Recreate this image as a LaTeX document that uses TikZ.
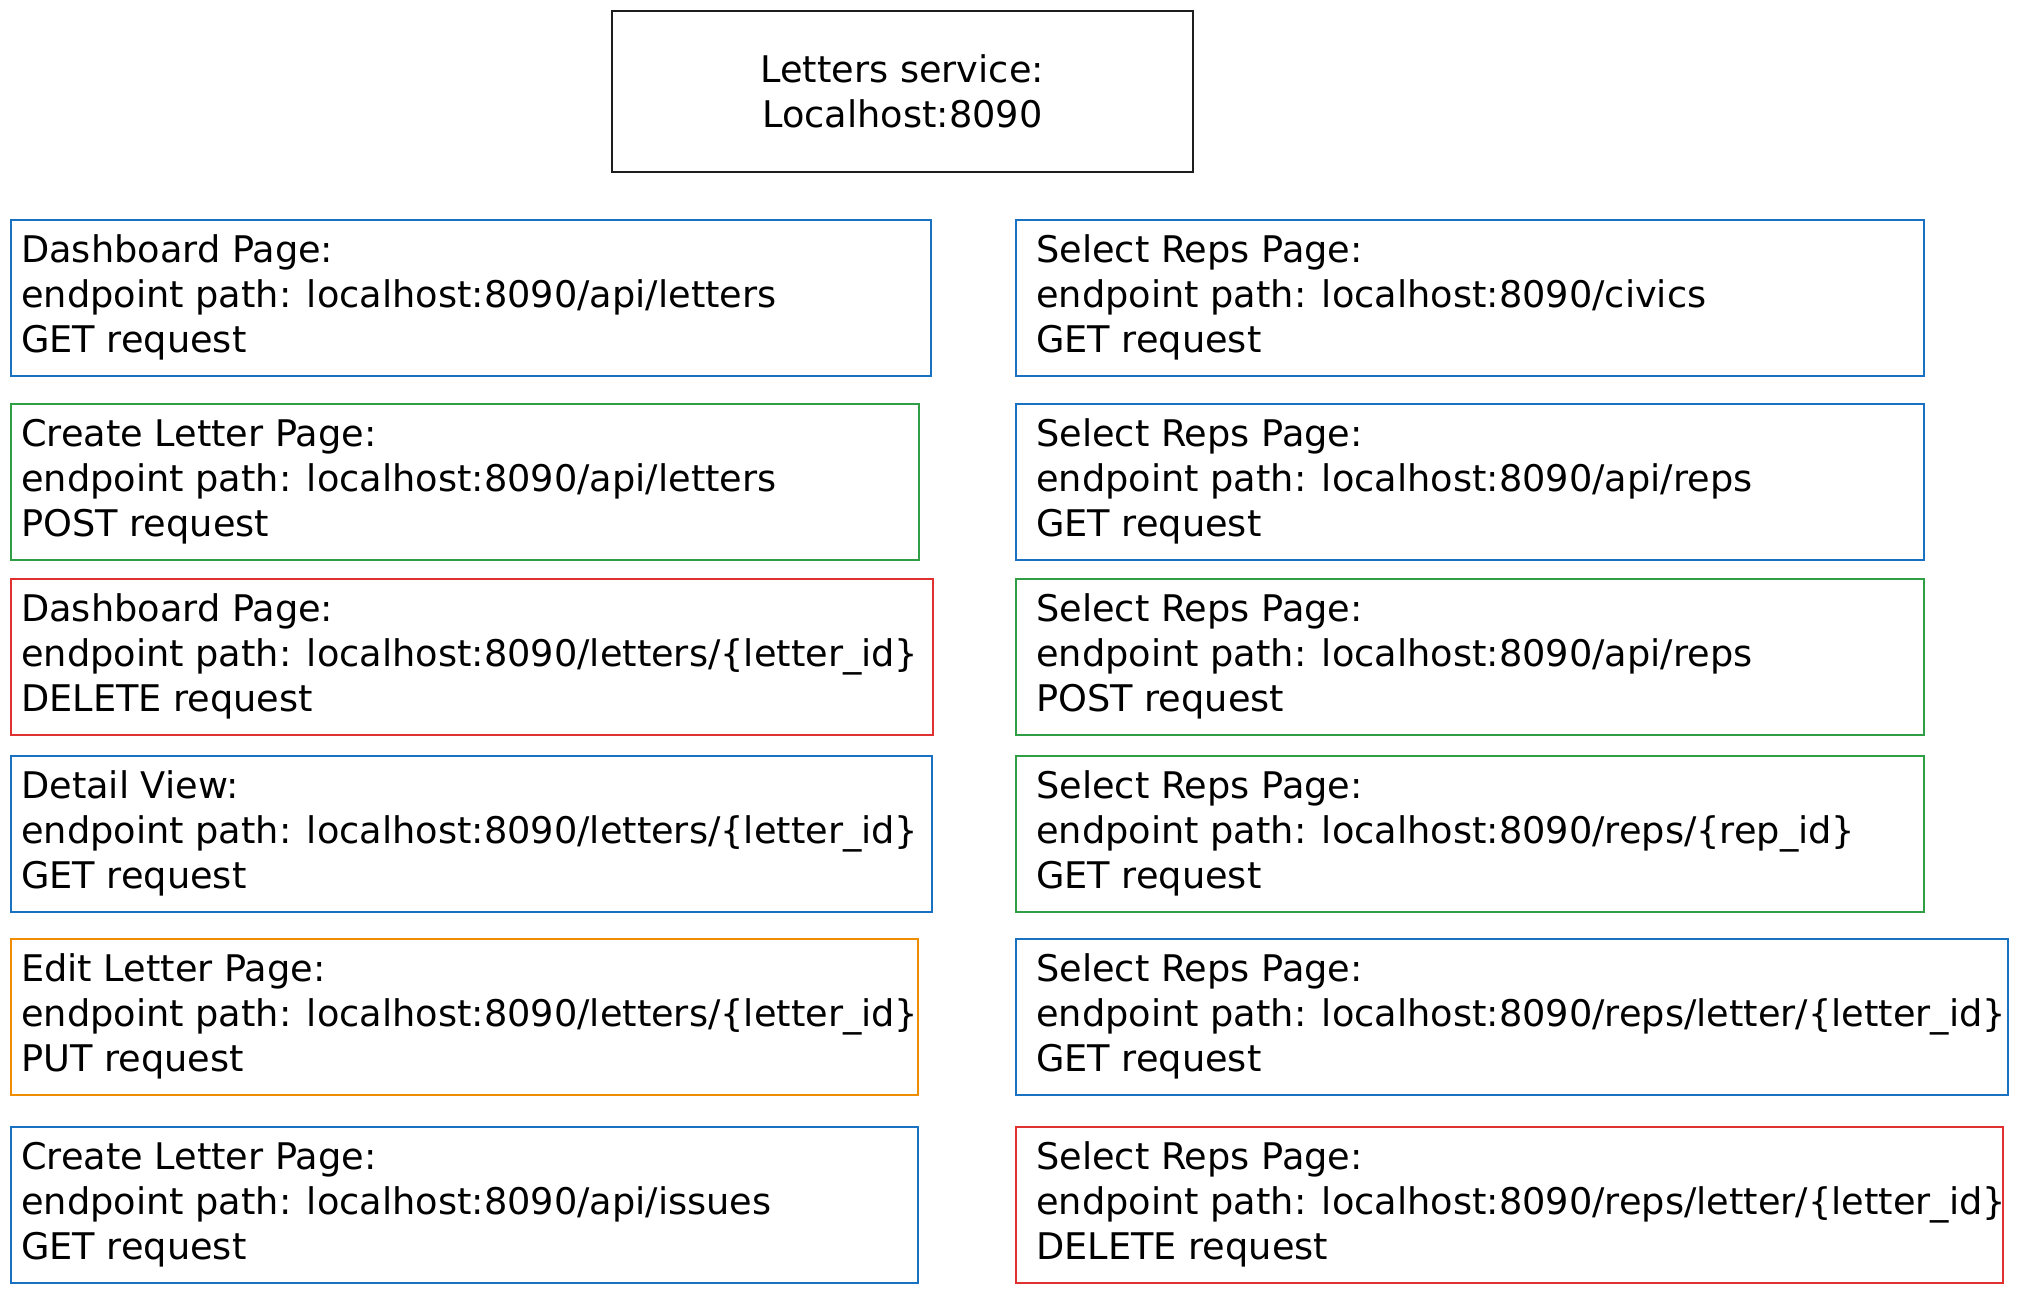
\documentclass[tikz,border=0pt]{standalone}
\usepackage{fontspec}
\setmainfont{DejaVu Sans}
\usepackage{tikz}
\definecolor{ink}{RGB}{30, 30, 30}
\definecolor{ocean}{RGB}{25, 113, 194}
\definecolor{leaf}{RGB}{47, 158, 68}
\definecolor{cherry}{RGB}{224, 49, 49}
\definecolor{amber}{RGB}{240, 140, 0}
\tikzset{
    endpoint/.style={draw=#1, line width=1.6pt, minimum height=156pt, inner sep=0pt, anchor=north west},
    words/.style={font=\fontsize{36.7pt}{45pt}\selectfont, align=left, inner sep=0pt, anchor=west}
}
\begin{document}
\begin{tikzpicture}[x=1pt, y=-1pt]
            \useasboundingbox (0, 0) rectangle (2017, 1292);
            \node[endpoint=ink,    minimum width=581pt, minimum height=161pt] (service)        at ( 611,   10) {};
            \node[words, align=center, anchor=center]                            (service-txt)    at (service.center) {Letters service:\\Localhost:8090};

            \node[endpoint=ocean,  minimum width=920pt] (dashget)        at (  10,  219) {};
            \node[endpoint=leaf,   minimum width=908pt] (createpost)     at (  10,  403) {};
            \node[endpoint=cherry, minimum width=922pt] (dashdelete)     at (  10,  578) {};
            \node[endpoint=ocean,  minimum width=921pt] (detailget)      at (  10,  755) {};
            \node[endpoint=amber,  minimum width=907pt] (editput)        at (  10,  938) {};
            \node[endpoint=ocean,  minimum width=907pt] (issuesget)      at (  10, 1126) {};

            \node[endpoint=ocean,  minimum width=908pt] (civicsget)      at (1015,  219) {};
            \node[endpoint=ocean,  minimum width=908pt] (repsget)        at (1015,  403) {};
            \node[endpoint=leaf,   minimum width=908pt] (repspost)       at (1015,  578) {};
            \node[endpoint=leaf,   minimum width=908pt] (repidget)       at (1015,  755) {};
            \node[endpoint=ocean,  minimum width=992pt] (repletterget)   at (1015,  938) {};
            \node[endpoint=cherry, minimum width=987pt] (repletterdel)   at (1015, 1126) {};

            \node[words] (dashget-txt)      at ([xshift=11pt]dashget.west)    {Dashboard Page:\\endpoint path: localhost:8090/api/letters\\GET request};
            \node[words] (createpost-txt)   at ([xshift=11pt]createpost.west) {Create Letter Page:\\endpoint path: localhost:8090/api/letters\\POST request};
            \node[words] (dashdelete-txt)   at ([xshift=11pt]dashdelete.west) {Dashboard Page:\\endpoint path: localhost:8090/letters/\{letter\_id\}\\DELETE request};
            \node[words] (detailget-txt)    at ([xshift=11pt]detailget.west)  {Detail View:\\endpoint path: localhost:8090/letters/\{letter\_id\}\\GET request};
            \node[words] (editput-txt)      at ([xshift=11pt]editput.west)    {Edit Letter Page:\\endpoint path: localhost:8090/letters/\{letter\_id\}\\PUT request};
            \node[words] (issuesget-txt)    at ([xshift=11pt]issuesget.west)  {Create Letter Page:\\endpoint path: localhost:8090/api/issues\\GET request};

            \node[words] (civicsget-txt)    at ([xshift=21pt]civicsget.west)    {Select Reps Page:\\endpoint path: localhost:8090/civics\\GET request};
            \node[words] (repsget-txt)      at ([xshift=21pt]repsget.west)      {Select Reps Page:\\endpoint path: localhost:8090/api/reps\\GET request};
            \node[words] (repspost-txt)     at ([xshift=21pt]repspost.west)     {Select Reps Page:\\endpoint path: localhost:8090/api/reps\\POST request};
            \node[words] (repidget-txt)     at ([xshift=21pt]repidget.west)     {Select Reps Page:\\endpoint path: localhost:8090/reps/\{rep\_id\}\\GET request};
            \node[words] (repletterget-txt) at ([xshift=21pt]repletterget.west) {Select Reps Page:\\endpoint path: localhost:8090/reps/letter/\{letter\_id\}\\GET request};
            \node[words] (repletterdel-txt) at ([xshift=21pt]repletterdel.west) {Select Reps Page:\\endpoint path: localhost:8090/reps/letter/\{letter\_id\}\\DELETE request};
        \end{tikzpicture}
\end{document}
